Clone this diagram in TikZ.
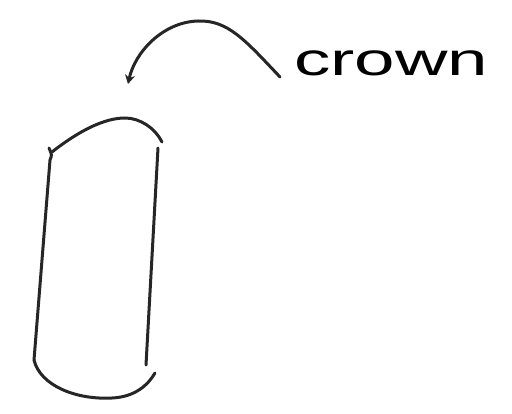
\documentclass[tikz,border=0pt]{standalone}
\usepackage{fontspec}
\setmainfont{Liberation Sans}
\usetikzlibrary{arrows.meta}
\begin{document}
\begin{tikzpicture}[x=1pt,y=-1pt,
  ink/.style={line width=3pt,line cap=round,line join=round,draw=black!85},
  label/.style={font=\fontsize{46}{46}\selectfont,inner sep=0pt,anchor=base west,xscale=1.58,transform shape}]
\useasboundingbox (0,0) rectangle (512,414);
% capsule
\draw[ink] (52,152) .. controls (80,130) and (105,118) .. (125,118) .. controls (140,118) and (155,128) .. (162,142);
\draw[ink] (49,148) .. controls (52,155) .. (50,160) -- (34,360);
\draw[ink] (158,148) -- (146,365);
\draw[ink] (34,360) .. controls (40,385) and (75,400) .. (112,398) .. controls (135,397) and (148,385) .. (155,373);
% label and arrow
\node[label] (crown) at (294,76) {crown};
\coordinate (tip) at (128,84);
\draw[ink,-{Stealth[length=9pt,width=10pt]}] ([xshift=-14pt,yshift=-1pt]crown.base west) .. controls (245,40) and (228,20) .. (198,21) .. controls (163,22) and (135,52) .. (tip);
\end{tikzpicture}
\end{document}
